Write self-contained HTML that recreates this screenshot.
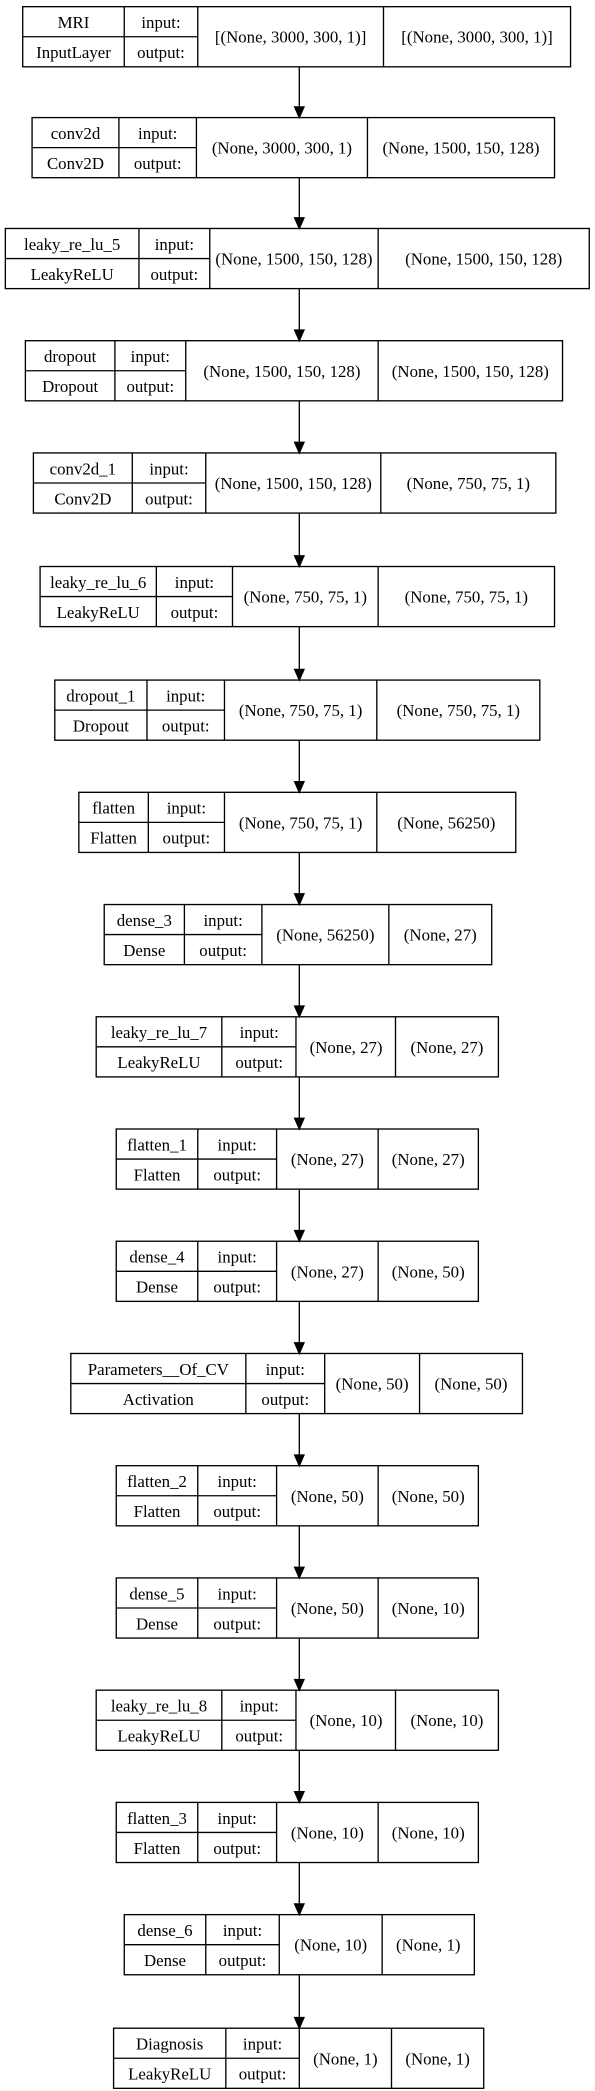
<!DOCTYPE html>
<html><head><meta charset="utf-8"><style>
html,body{margin:0;padding:0;background:#fff;}
svg{display:block;}
text{font-family:"Liberation Serif",serif;font-size:12.6px;fill:#000;text-anchor:middle;}
rect,line{stroke:#000;stroke-width:1;fill:none;}
polygon{fill:#000;stroke:#000;stroke-width:1;}
</style></head><body>
<svg width="595" height="2091" viewBox="0 0 445.3 1565" preserveAspectRatio="none">
<!-- 1 -->
<g transform="translate(0,5)"><rect x="17" y="0" width="410" height="45"/><line x1="93" y1="0" x2="93" y2="45"/><line x1="148" y1="0" x2="148" y2="45"/><line x1="287" y1="0" x2="287" y2="45"/><line x1="17" y1="22.5" x2="148" y2="22.5"/>
<text x="55" y="16">MRI</text><text x="55" y="38.5">InputLayer</text><text x="120.5" y="16">input:</text><text x="120.5" y="38.5">output:</text><text x="217.5" y="27">[(None, 3000, 300, 1)]</text><text x="357" y="27">[(None, 3000, 300, 1)]</text></g>
<!-- 2 -->
<g transform="translate(0,88)"><rect x="24" y="0" width="391" height="45"/><line x1="89" y1="0" x2="89" y2="45"/><line x1="147" y1="0" x2="147" y2="45"/><line x1="275" y1="0" x2="275" y2="45"/><line x1="24" y1="22.5" x2="147" y2="22.5"/>
<text x="56.5" y="16">conv2d</text><text x="56.5" y="38.5">Conv2D</text><text x="118" y="16">input:</text><text x="118" y="38.5">output:</text><text x="211" y="27">(None, 3000, 300, 1)</text><text x="345" y="27">(None, 1500, 150, 128)</text></g>
<!-- 3 -->
<g transform="translate(0,171)"><rect x="4" y="0" width="437" height="45"/><line x1="104" y1="0" x2="104" y2="45"/><line x1="157" y1="0" x2="157" y2="45"/><line x1="283" y1="0" x2="283" y2="45"/><line x1="4" y1="22.5" x2="157" y2="22.5"/>
<text x="54" y="16">leaky_re_lu_5</text><text x="54" y="38.5">LeakyReLU</text><text x="130.5" y="16">input:</text><text x="130.5" y="38.5">output:</text><text x="220" y="27">(None, 1500, 150, 128)</text><text x="362" y="27">(None, 1500, 150, 128)</text></g>
<!-- 4 -->
<g transform="translate(0,255)"><rect x="19" y="0" width="402" height="45"/><line x1="86" y1="0" x2="86" y2="45"/><line x1="139" y1="0" x2="139" y2="45"/><line x1="283" y1="0" x2="283" y2="45"/><line x1="19" y1="22.5" x2="139" y2="22.5"/>
<text x="52.5" y="16">dropout</text><text x="52.5" y="38.5">Dropout</text><text x="112.5" y="16">input:</text><text x="112.5" y="38.5">output:</text><text x="211" y="27">(None, 1500, 150, 128)</text><text x="352" y="27">(None, 1500, 150, 128)</text></g>
<!-- 5 -->
<g transform="translate(0,339)"><rect x="25" y="0" width="391" height="45"/><line x1="99" y1="0" x2="99" y2="45"/><line x1="154" y1="0" x2="154" y2="45"/><line x1="285" y1="0" x2="285" y2="45"/><line x1="25" y1="22.5" x2="154" y2="22.5"/>
<text x="62" y="16">conv2d_1</text><text x="62" y="38.5">Conv2D</text><text x="126.5" y="16">input:</text><text x="126.5" y="38.5">output:</text><text x="219.5" y="27">(None, 1500, 150, 128)</text><text x="350.5" y="27">(None, 750, 75, 1)</text></g>
<!-- 6 -->
<g transform="translate(0,424)"><rect x="30" y="0" width="385" height="45"/><line x1="117" y1="0" x2="117" y2="45"/><line x1="174" y1="0" x2="174" y2="45"/><line x1="283" y1="0" x2="283" y2="45"/><line x1="30" y1="22.5" x2="174" y2="22.5"/>
<text x="73.5" y="16">leaky_re_lu_6</text><text x="73.5" y="38.5">LeakyReLU</text><text x="145.5" y="16">input:</text><text x="145.5" y="38.5">output:</text><text x="228.5" y="27">(None, 750, 75, 1)</text><text x="349" y="27">(None, 750, 75, 1)</text></g>
<!-- 7 -->
<g transform="translate(0,509)"><rect x="41" y="0" width="363" height="45"/><line x1="110" y1="0" x2="110" y2="45"/><line x1="168" y1="0" x2="168" y2="45"/><line x1="282" y1="0" x2="282" y2="45"/><line x1="41" y1="22.5" x2="168" y2="22.5"/>
<text x="75.5" y="16">dropout_1</text><text x="75.5" y="38.5">Dropout</text><text x="139" y="16">input:</text><text x="139" y="38.5">output:</text><text x="225" y="27">(None, 750, 75, 1)</text><text x="343" y="27">(None, 750, 75, 1)</text></g>
<!-- 8 -->
<g transform="translate(0,593)"><rect x="59" y="0" width="327" height="45"/><line x1="111" y1="0" x2="111" y2="45"/><line x1="168" y1="0" x2="168" y2="45"/><line x1="282" y1="0" x2="282" y2="45"/><line x1="59" y1="22.5" x2="168" y2="22.5"/>
<text x="85" y="16">flatten</text><text x="85" y="38.5">Flatten</text><text x="139.5" y="16">input:</text><text x="139.5" y="38.5">output:</text><text x="225" y="27">(None, 750, 75, 1)</text><text x="334" y="27">(None, 56250)</text></g>
<!-- 9 -->
<g transform="translate(0,677)"><rect x="78" y="0" width="290" height="45"/><line x1="138" y1="0" x2="138" y2="45"/><line x1="196" y1="0" x2="196" y2="45"/><line x1="291" y1="0" x2="291" y2="45"/><line x1="78" y1="22.5" x2="196" y2="22.5"/>
<text x="108" y="16">dense_3</text><text x="108" y="38.5">Dense</text><text x="167" y="16">input:</text><text x="167" y="38.5">output:</text><text x="243.5" y="27">(None, 56250)</text><text x="329.5" y="27">(None, 27)</text></g>
<!-- 10 -->
<g transform="translate(0,761)"><rect x="72" y="0" width="301" height="45"/><line x1="166" y1="0" x2="166" y2="45"/><line x1="221.5" y1="0" x2="221.5" y2="45"/><line x1="296" y1="0" x2="296" y2="45"/><line x1="72" y1="22.5" x2="221.5" y2="22.5"/>
<text x="119" y="16">leaky_re_lu_7</text><text x="119" y="38.5">LeakyReLU</text><text x="194" y="16">input:</text><text x="194" y="38.5">output:</text><text x="259" y="27">(None, 27)</text><text x="334.5" y="27">(None, 27)</text></g>
<!-- 11 -->
<g transform="translate(0,845)"><rect x="87" y="0" width="271" height="45"/><line x1="148" y1="0" x2="148" y2="45"/><line x1="207" y1="0" x2="207" y2="45"/><line x1="283" y1="0" x2="283" y2="45"/><line x1="87" y1="22.5" x2="207" y2="22.5"/>
<text x="117.5" y="16">flatten_1</text><text x="117.5" y="38.5">Flatten</text><text x="177.5" y="16">input:</text><text x="177.5" y="38.5">output:</text><text x="245" y="27">(None, 27)</text><text x="320.5" y="27">(None, 27)</text></g>
<!-- 12 -->
<g transform="translate(0,929)"><rect x="87" y="0" width="271" height="45"/><line x1="148" y1="0" x2="148" y2="45"/><line x1="207" y1="0" x2="207" y2="45"/><line x1="283" y1="0" x2="283" y2="45"/><line x1="87" y1="22.5" x2="207" y2="22.5"/>
<text x="117.5" y="16">dense_4</text><text x="117.5" y="38.5">Dense</text><text x="177.5" y="16">input:</text><text x="177.5" y="38.5">output:</text><text x="245" y="27">(None, 27)</text><text x="320.5" y="27">(None, 50)</text></g>
<!-- 13 -->
<g transform="translate(0,1013)"><rect x="53" y="0" width="338" height="45"/><line x1="184" y1="0" x2="184" y2="45"/><line x1="243" y1="0" x2="243" y2="45"/><line x1="314" y1="0" x2="314" y2="45"/><line x1="53" y1="22.5" x2="243" y2="22.5"/>
<text x="118.5" y="16">Parameters__Of_CV</text><text x="118.5" y="38.5">Activation</text><text x="213.5" y="16">input:</text><text x="213.5" y="38.5">output:</text><text x="278.5" y="27">(None, 50)</text><text x="352.5" y="27">(None, 50)</text></g>
<!-- 14 -->
<g transform="translate(0,1097)"><rect x="87" y="0" width="271" height="45"/><line x1="148" y1="0" x2="148" y2="45"/><line x1="207" y1="0" x2="207" y2="45"/><line x1="283" y1="0" x2="283" y2="45"/><line x1="87" y1="22.5" x2="207" y2="22.5"/>
<text x="117.5" y="16">flatten_2</text><text x="117.5" y="38.5">Flatten</text><text x="177.5" y="16">input:</text><text x="177.5" y="38.5">output:</text><text x="245" y="27">(None, 50)</text><text x="320.5" y="27">(None, 50)</text></g>
<!-- 15 -->
<g transform="translate(0,1181)"><rect x="87" y="0" width="271" height="45"/><line x1="148" y1="0" x2="148" y2="45"/><line x1="207" y1="0" x2="207" y2="45"/><line x1="283" y1="0" x2="283" y2="45"/><line x1="87" y1="22.5" x2="207" y2="22.5"/>
<text x="117.5" y="16">dense_5</text><text x="117.5" y="38.5">Dense</text><text x="177.5" y="16">input:</text><text x="177.5" y="38.5">output:</text><text x="245" y="27">(None, 50)</text><text x="320.5" y="27">(None, 10)</text></g>
<!-- 16 -->
<g transform="translate(0,1265)"><rect x="72" y="0" width="301" height="45"/><line x1="166" y1="0" x2="166" y2="45"/><line x1="221.5" y1="0" x2="221.5" y2="45"/><line x1="296" y1="0" x2="296" y2="45"/><line x1="72" y1="22.5" x2="221.5" y2="22.5"/>
<text x="119" y="16">leaky_re_lu_8</text><text x="119" y="38.5">LeakyReLU</text><text x="194" y="16">input:</text><text x="194" y="38.5">output:</text><text x="259" y="27">(None, 10)</text><text x="334.5" y="27">(None, 10)</text></g>
<!-- 17 -->
<g transform="translate(0,1349)"><rect x="87" y="0" width="271" height="45"/><line x1="148" y1="0" x2="148" y2="45"/><line x1="207" y1="0" x2="207" y2="45"/><line x1="283" y1="0" x2="283" y2="45"/><line x1="87" y1="22.5" x2="207" y2="22.5"/>
<text x="117.5" y="16">flatten_3</text><text x="117.5" y="38.5">Flatten</text><text x="177.5" y="16">input:</text><text x="177.5" y="38.5">output:</text><text x="245" y="27">(None, 10)</text><text x="320.5" y="27">(None, 10)</text></g>
<!-- 18 -->
<g transform="translate(0,1433)"><rect x="93" y="0" width="262" height="45"/><line x1="154" y1="0" x2="154" y2="45"/><line x1="209" y1="0" x2="209" y2="45"/><line x1="286" y1="0" x2="286" y2="45"/><line x1="93" y1="22.5" x2="209" y2="22.5"/>
<text x="123.5" y="16">dense_6</text><text x="123.5" y="38.5">Dense</text><text x="181.5" y="16">input:</text><text x="181.5" y="38.5">output:</text><text x="247.5" y="27">(None, 10)</text><text x="320.5" y="27">(None, 1)</text></g>
<!-- 19 -->
<g transform="translate(0,1518)"><rect x="85" y="0" width="277" height="45"/><line x1="169" y1="0" x2="169" y2="45"/><line x1="224" y1="0" x2="224" y2="45"/><line x1="293" y1="0" x2="293" y2="45"/><line x1="85" y1="22.5" x2="224" y2="22.5"/>
<text x="127" y="16">Diagnosis</text><text x="127" y="38.5">LeakyReLU</text><text x="196.5" y="16">input:</text><text x="196.5" y="38.5">output:</text><text x="258.5" y="27">(None, 1)</text><text x="327.5" y="27">(None, 1)</text></g>
<!-- arrows -->
<g>
<line x1="224" y1="50" x2="224" y2="80"/><polygon points="220.5,80 227.5,80 224,88"/>
<line x1="224" y1="133" x2="224" y2="163"/><polygon points="220.5,163 227.5,163 224,171"/>
<line x1="224" y1="216" x2="224" y2="247"/><polygon points="220.5,247 227.5,247 224,255"/>
<line x1="224" y1="300" x2="224" y2="331"/><polygon points="220.5,331 227.5,331 224,339"/>
<line x1="224" y1="384" x2="224" y2="416"/><polygon points="220.5,416 227.5,416 224,424"/>
<line x1="224" y1="469" x2="224" y2="501"/><polygon points="220.5,501 227.5,501 224,509"/>
<line x1="224" y1="554" x2="224" y2="585"/><polygon points="220.5,585 227.5,585 224,593"/>
<line x1="224" y1="638" x2="224" y2="669"/><polygon points="220.5,669 227.5,669 224,677"/>
<line x1="224" y1="722" x2="224" y2="753"/><polygon points="220.5,753 227.5,753 224,761"/>
<line x1="224" y1="806" x2="224" y2="837"/><polygon points="220.5,837 227.5,837 224,845"/>
<line x1="224" y1="890" x2="224" y2="921"/><polygon points="220.5,921 227.5,921 224,929"/>
<line x1="224" y1="974" x2="224" y2="1005"/><polygon points="220.5,1005 227.5,1005 224,1013"/>
<line x1="224" y1="1058" x2="224" y2="1089"/><polygon points="220.5,1089 227.5,1089 224,1097"/>
<line x1="224" y1="1142" x2="224" y2="1173"/><polygon points="220.5,1173 227.5,1173 224,1181"/>
<line x1="224" y1="1226" x2="224" y2="1257"/><polygon points="220.5,1257 227.5,1257 224,1265"/>
<line x1="224" y1="1310" x2="224" y2="1341"/><polygon points="220.5,1341 227.5,1341 224,1349"/>
<line x1="224" y1="1394" x2="224" y2="1425"/><polygon points="220.5,1425 227.5,1425 224,1433"/>
<line x1="224" y1="1478" x2="224" y2="1510"/><polygon points="220.5,1510 227.5,1510 224,1518"/>
</g>
</svg>
</body></html>
